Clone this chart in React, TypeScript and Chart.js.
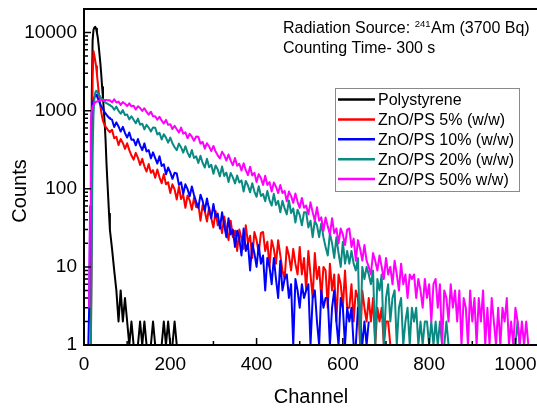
import React, { useEffect, useRef } from "react";
import { Chart, registerables } from "chart.js";
Chart.register(...registerables);

// ---------- categories (channel numbers) ----------
const CHANNELS_PEAK = [0, 2, 4, 6, 8, 10, 12, 14, 16, 18, 20, 22, 24, 26, 28, 30, 32, 34, 36, 38, 40, 42, 44, 46, 48, 50, 52, 54, 56, 58, 60];
const CHANNELS_TAIL = [
  65, 70, 75, 80, 85, 90, 95, 100, 105, 110,
  115, 120, 125, 130, 135, 140, 145, 150, 155, 160,
  165, 170, 175, 180, 185, 190, 195, 200, 205, 210,
  215, 220, 225, 230, 235, 240, 245, 250, 255, 260,
  265, 270, 275, 280, 285, 290, 295, 300, 305, 310,
  315, 320, 325, 330, 335, 340, 345, 350, 355, 360,
  365, 370, 375, 380, 385, 390, 395, 400, 405, 410,
  415, 420, 425, 430, 435, 440, 445, 450, 455, 460,
  465, 470, 475, 480, 485, 490, 495, 500, 505, 510,
  515, 520, 525, 530, 535, 540, 545, 550, 555, 560,
  565, 570, 575, 580, 585, 590, 595, 600, 605, 610,
  615, 620, 625, 630, 635, 640, 645, 650, 655, 660,
  665, 670, 675, 680, 685, 690, 695, 700, 705, 710,
  715, 720, 725, 730, 735, 740, 745, 750, 755, 760,
  765, 770, 775, 780, 785, 790, 795, 800, 805, 810,
  815, 820, 825, 830, 835, 840, 845, 850, 855, 860,
  865, 870, 875, 880, 885, 890, 895, 900, 905, 910,
  915, 920, 925, 930, 935, 940, 945, 950, 955, 960,
  965, 970, 975, 980, 985, 990, 995, 1000, 1005, 1010,
  1015, 1020, 1025, 1030,
];

// ---------- series labels / colours ----------
const SERIES_LABELS = ["Polystyrene", "ZnO/PS 5% (w/w)", "ZnO/PS 10% (w/w)", "ZnO/PS 20% (w/w)", "ZnO/PS 50% w/w)"];
const SERIES_COLORS = ["#000000", "#ff0000", "#0000ff", "#0a8a82", "#ff00ff"];

// ---------- counts: Polystyrene ----------
const BLACK_PEAK = [null, null, null, null, null, null, null, null, 1, 1500, 8000, 10800, 11600, 11800, 11200, 9900, 8600, 6800, 5200, 4000, 2900, 2000, 1450, 1000, 680, 420, 220, 130, 80, 48, 30];
const BLACK_TAIL = [
  17, 9, 5, 2, 5, 2, 4, 2, 1, 2,
  1, 1, 1, 2, 1, 2, 1, 1, 1, 2,
  1, 1, 1, 1, 2, 1, 2, 1, 1, 2,
  1,
];

// ---------- counts: ZnO/PS 5% ----------
const RED_PEAK = [null, null, null, null, null, null, null, null, 1, 60, 2600, 5800, 5100, 4400, 3700, 2900, 2250, 1750, 1400, 1150, 960, 830, 740, 690, 650, 625, 600, 580, 560, 545, 530];
const RED_TAIL = [
  570, 444, 463, 362, 434, 386, 324, 382, 312, 266,
  236, 288, 249, 202, 242, 194, 166, 208, 160, 173,
  138, 176, 140, 118, 154, 114, 121, 88, 114, 98,
  73, 106, 74, 84, 57, 82, 71, 54, 77, 58,
  63, 39, 62, 52, 38, 58, 42, 32, 52, 34,
  38, 27, 44, 30, 22, 39, 24, 29, 16, 30,
  23, 17, 34, 20, 25, 13, 28, 22, 15, 27,
  28, 16, 21, 10, 22, 17, 11, 22, 14, 9,
  7, 18, 14, 9, 17, 11, 8, 18, 8, 13,
  5, 16, 8, 4, 15, 7, 10, 4, 10, 9,
  3, 11, 5, 8, 2, 8, 6, 3, 9, 3,
  3, 6, 2, 5, 4, 1, 5, 3, 2, 4,
  2, 4, 1, 3, 2, 3, 1, 2, 2, 1,
];

// ---------- counts: ZnO/PS 10% ----------
const BLUE_PEAK = [null, null, null, null, null, 1, 3, 40, 500, 900, 1150, 1350, 1480, 1570, 1600, 1530, 1440, 1350, 1270, 1200, 1140, 1090, 1040, 995, 955, 920, 890, 860, 835, 810, 790];
const BLUE_TAIL = [
  766, 616, 708, 628, 540, 620, 518, 452, 526, 423,
  426, 360, 433, 360, 312, 381, 300, 312, 245, 292,
  247, 210, 261, 196, 206, 153, 187, 162, 134, 160,
  157, 112, 121, 86, 114, 99, 80, 107, 83, 68,
  57, 84, 70, 52, 75, 54, 42, 64, 43, 48,
  31, 50, 34, 24, 42, 26, 30, 18, 29, 23,
  14, 31, 16, 20, 9, 20, 15, 10, 19, 11,
  14, 5, 13, 10, 6, 13, 7, 4, 12, 5,
  7, 8, 4, 6, 1, 7, 5, 3, 6, 4,
  5, 6, 1, 4, 5, 2, 1, 5, 3, 4,
  4, 1, 3, 5, 2, 1, 4, 3, 1, 3,
  2, 3, 1, 1, 3, 2, 1, 2, 1, 2,
];

// ---------- counts: ZnO/PS 20% ----------
const TEAL_PEAK = [null, null, null, null, null, null, null, null, 1, 20, 300, 900, 1400, 1700, 1790, 1750, 1690, 1620, 1560, 1500, 1450, 1400, 1360, 1330, 1300, 1270, 1250, 1230, 1210, 1190, 1170];
const TEAL_TAIL = [
  1128, 1025, 1126, 994, 913, 1016, 877, 890, 772, 848,
  764, 690, 792, 662, 680, 576, 658, 606, 540, 610,
  604, 496, 520, 427, 499, 451, 389, 452, 382, 340,
  312, 378, 339, 290, 350, 290, 254, 313, 248, 260,
  214, 264, 214, 187, 242, 188, 203, 156, 198, 176,
  144, 193, 146, 161, 122, 159, 140, 117, 148, 120,
  128, 92, 126, 110, 90, 118, 92, 79, 108, 81,
  86, 69, 94, 71, 61, 86, 62, 70, 50, 70,
  56, 47, 71, 49, 56, 37, 54, 46, 34, 50,
  50, 32, 39, 24, 39, 34, 24, 36, 24, 18,
  14, 27, 20, 13, 24, 15, 10, 21, 11, 16,
  11, 16, 11, 9, 13, 1, 10, 7, 10, 8,
  6, 9, 1, 7, 5, 8, 1, 4, 6, 2,
  4, 5, 1, 3, 4, 1, 2, 3, 1, 3,
  2, 3, 1, 2, 1, 2, 2, 1, 2, 1,
  2, 1, 2, 1, 1, 2, 1, 1, 1, 1,
  1, 1, 1, 1, 1, 1, 1, 1, 1, 1,
  1, 1, 1, 1, 1, 1, 1, 1, 1, 1,
  1, 1, 1, 1, 1, 1, 1, 1, 2, 1,
];

// ---------- counts: ZnO/PS 50% ----------
const MAGENTA_PEAK = [null, null, null, null, null, null, 3, 60, 700, 1020, 1120, 1180, 1230, 1275, 1300, 1315, 1325, 1335, 1342, 1348, 1352, 1356, 1360, 1362, 1364, 1365, 1365, 1363, 1360, 1356, 1352];
const MAGENTA_TAIL = [
  1276, 1400, 1268, 1304, 1184, 1284, 1223, 1145, 1239, 1136,
  1154, 1032, 1136, 1078, 993, 1074, 961, 888, 969, 846,
  846, 764, 836, 743, 684, 761, 658, 671, 582, 640,
  578, 524, 606, 508, 528, 444, 505, 464, 412, 466,
  462, 378, 398, 326, 383, 348, 303, 353, 299, 268,
  245, 298, 268, 230, 274, 229, 200, 247, 197, 209,
  171, 212, 173, 150, 191, 148, 160, 122, 154, 137,
  112, 147, 112, 122, 92, 120, 106, 88, 112, 88,
  94, 69, 92, 81, 66, 87, 68, 57, 76, 57,
  61, 47, 67, 50, 39, 58, 39, 43, 29, 43,
  33, 26, 42, 27, 31, 20, 31, 26, 19, 30,
  31, 18, 23, 12, 22, 17, 12, 19, 12, 10,
  8, 15, 12, 9, 14, 10, 7, 13, 8, 10,
  6, 12, 8, 5, 11, 6, 8, 4, 8, 7,
  8, 4, 7, 5, 3, 7, 4, 6, 2, 6,
  7, 3, 6, 1, 5, 4, 2, 6, 3, 5,
  2, 5, 1, 4, 3, 1, 5, 2, 4, 1,
  4, 2, 5, 1, 3, 1, 4, 2, 1, 3,
  1, 3, 2, 4, 1, 2, 1, 3, 2, 1,
  2, 1, 2, 1,
];

// ---------- axis ticks ----------
const X_TICKS = [0, 200, 400, 600, 800, 1000];
const X_MINOR = [100, 300, 500, 700, 900];
const Y_TICKS = [1, 10, 100, 1000, 10000];
const Y_MINOR_MULT = [2, 3, 4, 5, 6, 7, 8, 9];

const FONT = '"Liberation Sans", Arial, Helvetica, sans-serif';

function toPoints(peak: (number | null)[], tail: number[]) {
  const pts: { x: number; y: number }[] = [];
  peak.forEach((v, i) => {
    if (v !== null) pts.push({ x: CHANNELS_PEAK[i], y: v });
  });
  tail.forEach((v, i) => pts.push({ x: CHANNELS_TAIL[i], y: v }));
  return pts;
}

const framePlugin = {
  id: "frameTicks",
  afterDatasetsDraw(chart: any) {
    const { ctx, chartArea: a, scales } = chart;
    const xs = scales.x;
    const ys = scales.y;
    ctx.save();
    ctx.strokeStyle = "#000";
    ctx.lineWidth = 1.5;
    ctx.beginPath();
    for (const v of Y_TICKS) {
      const p = ys.getPixelForValue(v);
      ctx.moveTo(a.left, p);
      ctx.lineTo(a.left + 7, p);
    }
    for (const d of Y_TICKS) {
      for (const m of Y_MINOR_MULT) {
        const v = d * m;
        if (v > ys.max) continue;
        const p = ys.getPixelForValue(v);
        ctx.moveTo(a.left, p);
        ctx.lineTo(a.left + 4, p);
      }
    }
    for (const v of X_TICKS) {
      const p = xs.getPixelForValue(v);
      ctx.moveTo(p, a.bottom);
      ctx.lineTo(p, a.bottom - 7);
    }
    for (const v of X_MINOR) {
      const p = xs.getPixelForValue(v);
      ctx.moveTo(p, a.bottom);
      ctx.lineTo(p, a.bottom - 4);
    }
    ctx.stroke();
    ctx.lineWidth = 2;
    ctx.beginPath();
    ctx.moveTo(a.right + 2, a.top);
    ctx.lineTo(a.left, a.top);
    ctx.lineTo(a.left, a.bottom);
    ctx.lineTo(a.right + 2, a.bottom);
    ctx.stroke();
    ctx.restore();
  },
};

const textPlugin = {
  id: "texts",
  afterDraw(chart: any) {
    const { ctx } = chart;
    const ds = chart.data.datasets;
    ctx.save();
    ctx.fillStyle = "#000";
    // annotation
    ctx.textBaseline = "alphabetic";
    ctx.textAlign = "left";
    ctx.font = `16px ${FONT}`;
    let x = 283;
    const t1 = "Radiation Source: ";
    ctx.fillText(t1, x, 33);
    x += ctx.measureText(t1).width;
    ctx.font = `9.5px ${FONT}`;
    ctx.fillText("241", x, 26.5);
    x += ctx.measureText("241").width + 0.5;
    ctx.font = `16px ${FONT}`;
    ctx.fillText("Am (3700 Bq)", x, 33);
    ctx.fillText("Counting Time- 300 s", 283, 53);

    // legend
    ctx.fillStyle = "#fff";
    ctx.fillRect(335, 88, 184, 104);
    ctx.strokeStyle = "#8a8a8a";
    ctx.lineWidth = 1;
    ctx.strokeRect(335.5, 88.5, 184, 103);
    ctx.font = `16px ${FONT}`;
    ctx.textBaseline = "middle";
    for (let i = 0; i < ds.length; i++) {
      const yy = 99.5 + i * 19.9;
      ctx.strokeStyle = ds[i].borderColor;
      ctx.lineWidth = 2.5;
      ctx.beginPath();
      ctx.moveTo(338, yy);
      ctx.lineTo(375, yy);
      ctx.stroke();
      ctx.fillStyle = "#000";
      ctx.fillText(ds[i].label, 378, yy + 1);
    }

    // axis titles
    ctx.font = `20px ${FONT}`;
    ctx.textAlign = "center";
    ctx.textBaseline = "alphabetic";
    ctx.fillText("Channel", 311, 402.5);
    ctx.translate(26, 191);
    ctx.rotate(-Math.PI / 2);
    ctx.fillText("Counts", 0, 0);
    ctx.restore();
  },
};

export default function App() {
  const ref = useRef<HTMLCanvasElement>(null);
  useEffect(() => {
    const peaks = [BLACK_PEAK, RED_PEAK, BLUE_PEAK, TEAL_PEAK, MAGENTA_PEAK];
    const tails = [BLACK_TAIL, RED_TAIL, BLUE_TAIL, TEAL_TAIL, MAGENTA_TAIL];
    const datasets = SERIES_LABELS.map((label, i) => ({
      label,
      data: toPoints(peaks[i], tails[i]),
      borderColor: SERIES_COLORS[i],
      backgroundColor: SERIES_COLORS[i],
      borderWidth: 2,
      pointRadius: 0,
      fill: false,
      tension: 0,
      borderJoinStyle: "round" as const,
      order: SERIES_LABELS.length - 1 - i,
    }));
    const chart = new Chart(ref.current as HTMLCanvasElement, {
      type: "line",
      data: { datasets },
      options: {
        animation: false,
        responsive: false,
        devicePixelRatio: 1,
        events: [],
        layout: { padding: { top: 9, left: 0, right: 0, bottom: 0 } },
        plugins: { legend: { display: false }, tooltip: { enabled: false }, title: { display: false } },
        scales: {
          x: {
            type: "linear",
            min: 0,
            max: 1050,
            grid: { display: false, drawTicks: false },
            border: { display: false },
            afterBuildTicks: (s: any) => {
              s.ticks = X_TICKS.map((v) => ({ value: v }));
            },
            afterFit: (s: any) => {
              s.height = 64;
              s.paddingLeft = 0;
              s.paddingRight = 0;
            },
            ticks: {
              autoSkip: false,
              maxRotation: 0,
              padding: 8,
              color: "#000",
              font: { family: FONT, size: 19 },
              callback: (v: any) => String(v),
            },
          },
          y: {
            type: "logarithmic",
            min: 1,
            max: 20000,
            grid: { display: false, drawTicks: false },
            border: { display: false },
            afterBuildTicks: (s: any) => {
              s.ticks = Y_TICKS.map((v) => ({ value: v }));
            },
            afterFit: (s: any) => {
              s.width = 84;
              s.paddingTop = 0;
              s.paddingBottom = 0;
            },
            ticks: {
              autoSkip: false,
              padding: 7,
              color: "#000",
              font: { family: FONT, size: 19 },
              callback: (v: any) => String(v),
            },
          },
        },
      },
      plugins: [framePlugin, textPlugin],
    } as any);
    return () => chart.destroy();
  }, []);
  return (
    <div style={{ position: "fixed", left: 0, top: 0, width: 537, height: 409, background: "#fff" }}>
      <canvas ref={ref} width={537} height={409} style={{ display: "block", width: 537, height: 409 }} />
    </div>
  );
}
